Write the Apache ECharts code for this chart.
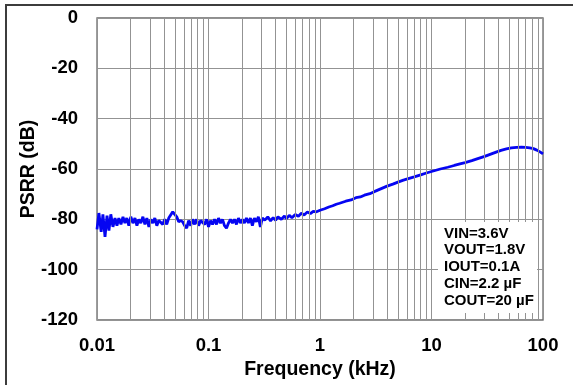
<!DOCTYPE html>
<html>
<head>
<meta charset="utf-8">
<script src="https://cdn.jsdelivr.net/npm/echarts@6/dist/echarts.min.js"></script>
<style>html,body{margin:0;padding:0;background:#fff;}#c{width:573px;height:385px;}</style>
</head>
<body>
<div id="c"></div>
<script>
// Frequencies (kHz)
var freqs = [
0.0100,0.0104,0.0109,0.0113,0.0118,0.0123,0.0128,0.0133,0.0139,0.0145,
0.0151,0.0157,0.0164,0.0171,0.0178,0.0185,0.0193,0.0201,0.0210,0.0219,
0.0228,0.0237,0.0247,0.0258,0.0269,0.0280,0.0292,0.0304,0.0317,0.0330,
0.0344,0.0358,0.0373,0.0389,0.0405,0.0422,0.0440,0.0458,0.0478,0.0498,
0.0519,0.0540,0.0563,0.0587,0.0611,0.0637,0.0664,0.0692,0.0721,0.0751,
0.0782,0.0815,0.0850,0.0885,0.0922,0.0961,0.1001,0.1043,0.1087,0.1133,
0.1180,0.1230,0.1282,0.1335,0.1391,0.1450,0.1511,0.1574,0.1640,0.1709,
0.1781,0.1856,0.1934,0.2015,0.2100,0.2188,0.2280,0.2375,0.2475,0.2579,
0.2687,0.2800,0.2918,0.3040,
0.32,0.34,0.36,0.38,0.40,0.42,0.45,0.48,0.50,0.53,
0.56,0.60,0.64,0.68,0.72,0.77,0.82,0.87,0.93,1.0,
1.1,1.2,1.3,1.4,1.5,1.7,1.9,2.1,2.3,2.5,
2.8,3.1,3.5,4.0,4.5,5.0,5.6,6.3,7.0,8.0,
9.0,10,12,14,16,18,20,23,26,30,
34,38,42,47,52,58,64,70,76,82,
88,94,100
];
// PSRR (dB)
var psrr = [
-84,-77.5,-85,-78,-87,-78.5,-84.5,-78,-83,-79.5,
-82.5,-79.5,-82,-79,-81.5,-79.5,-82.5,-79,-81.5,-79.5,
-82.5,-80,-81.5,-79,-82,-79.5,-83,-80,-81.5,-79.5,
-82.5,-80.5,-80,-82,-80,-82,-79.5,-79,-77,-76.5,
-79,-81,-80.5,-81,-82.5,-83.5,-80.5,-82.5,-80,-82,
-80,-82.5,-80.5,-80,-82,-80,-83,-80.5,-82,-80,
-82,-79.5,-81.5,-80,-82.5,-83.5,-81.5,-80,-81.5,-80,
-82,-79.5,-81.5,-80,-81.5,-79.5,-81.5,-79.5,-82.5,-79.5,
-81,-79,-83,-79.5,
-80.3,-79,-80.6,-79.3,-80.4,-79,-80,-78.7,-79.7,-78.4,
-79.4,-78.1,-78.8,-77.6,-78.3,-77.1,-77.7,-76.8,-77,-76.4,
-75.8,-75.1,-74.6,-74.0,-73.6,-72.8,-72.3,-71.4,-71.1,-70.4,
-69.8,-68.9,-67.9,-66.8,-66.0,-65.2,-64.4,-63.7,-63.1,-62.3,
-61.6,-61.0,-60.0,-59.3,-58.6,-58.0,-57.5,-56.7,-55.9,-55.0,
-54.1,-53.3,-52.6,-52.0,-51.6,-51.4,-51.3,-51.4,-51.6,-51.9,
-52.5,-53.2,-54.0
];
var xTickLabels = ['0.01','0.1','1','10','100'];
var minorGrid = [0.02,0.03,0.04,0.05,0.06,0.07,0.08,0.09,
                 0.2,0.3,0.4,0.5,0.6,0.7,0.8,0.9,
                 2,3,4,5,6,7,8,9,
                 20,30,40,50,60,70,80,90];
var noteLines = ['VIN=3.6V','VOUT=1.8V','IOUT=0.1A','CIN=2.2 µF','COUT=20 µF'];

var FONT = '"Liberation Sans", Arial, sans-serif';
var chart = echarts.init(document.getElementById('c'), null, {renderer:'canvas'});
var lineData = freqs.map(function(f,i){return [f, psrr[i]];});

chart.setOption({
  animation: false,
  backgroundColor: '#fff',
  grid: {left: 97, top: 18, right: 30, bottom: 65, show: true, borderColor: '#6a6a6a', borderWidth: 1.3, backgroundColor: 'transparent'},
  xAxis: {
    type: 'log', logBase: 10, min: 0.01, max: 100,
    name: 'Frequency (kHz)', nameLocation: 'middle', nameGap: 40, nameMoveOverlap: false,
    nameTextStyle: {fontFamily: FONT, fontWeight: 'bold', fontSize: 19.5, color: '#000'},
    axisLine: {show: false}, axisTick: {show: false},
    axisLabel: {fontFamily: FONT, fontWeight: 'bold', fontSize: 18.5, color: '#000', margin: 16,
      formatter: function(v){ var k = Math.round(Math.log10(v)) + 2; return xTickLabels[k] || ''; }},
    splitLine: {show: true, lineStyle: {color: '#939393', width: 1}}
  },
  yAxis: {
    type: 'value', min: -120, max: 0, interval: 20,
    name: 'PSRR (dB)', nameLocation: 'middle', nameGap: 58, nameMoveOverlap: false,
    nameTextStyle: {fontFamily: FONT, fontWeight: 'bold', fontSize: 19.5, color: '#000'},
    axisLine: {show: false}, axisTick: {show: false},
    axisLabel: {fontFamily: FONT, fontWeight: 'bold', fontSize: 18.5, color: '#000', margin: 19},
    splitLine: {show: true, lineStyle: {color: '#939393', width: 1}}
  },
  series: [
    {
      type: 'line', data: [], z: 1, silent: true,
      markLine: {
        silent: true, symbol: ['none','none'], animation: false,
        label: {show: false},
        lineStyle: {color: '#939393', width: 1, type: 'solid'},
        data: minorGrid.map(function(v){return {xAxis: v};})
      }
    },
    {
      type: 'line', data: lineData, z: 3, showSymbol: false, symbol: 'none',
      lineStyle: {color: '#0505f2', width: 2.8}
    }
  ],
  graphic: [
    {type: 'rect', z: 100, shape: {x: 438, y: 222, width: 99, height: 91}, style: {fill: '#fff', stroke: null}},
    {type: 'text', z: 101, left: 444, top: 225,
     style: {text: noteLines.join('\n'), font: 'bold 15px ' + FONT, fill: '#000', lineHeight: 16.8}},
    {type: 'rect', z: 102, shape: {x: 6, y: 5, width: 620, height: 420}, style: {fill: null, stroke: '#3c3c3c', lineWidth: 2}}
  ]
});
</script>
</body>
</html>
